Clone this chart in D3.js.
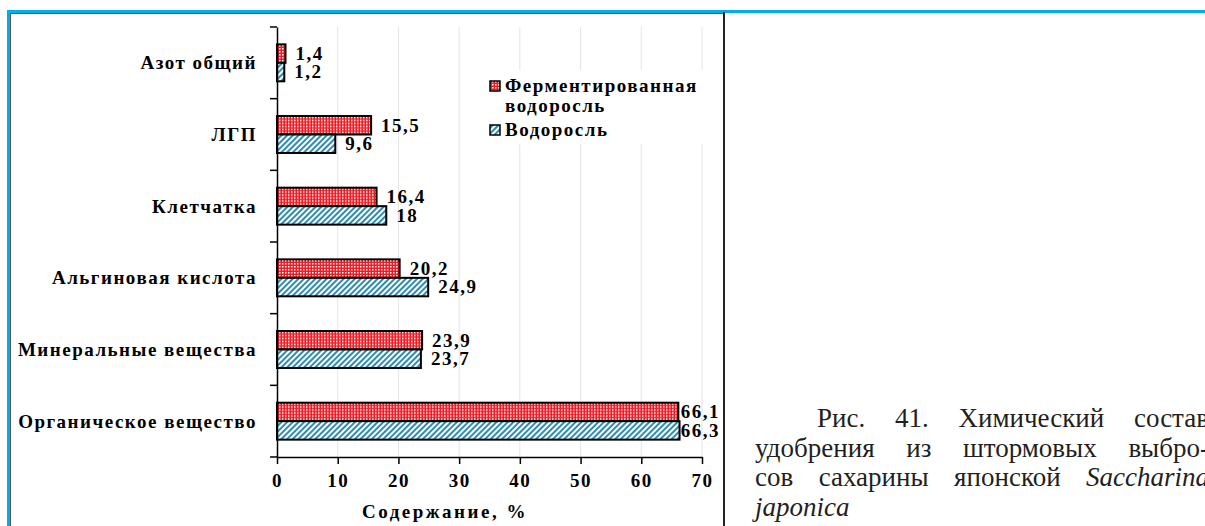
<!DOCTYPE html>
<html>
<head>
<meta charset="utf-8">
<script src="https://cdn.jsdelivr.net/npm/d3@7"></script>
<style>
  html, body { margin: 0; padding: 0; background: #fff; }
  svg { display: block; }
</style>
</head>
<body>
<svg id="fig" width="1205" height="526"></svg>
<script>
// Chemical composition, %
const categories = ["Азот общий", "ЛГП", "Клетчатка", "Альгиновая кислота", "Минеральные вещества", "Органическое вещество"];
const fermented = [1.4, 15.5, 16.4, 20.2, 23.9, 66.1];
const seaweed = [1.2, 9.6, 18, 24.9, 23.7, 66.3];
const seriesKeys = ["fermented", "seaweed"];
const legendLines = [["Ферментированная", "водоросль"], ["Водоросль"]];
const xTicks = [0, 10, 20, 30, 40, 50, 60, 70];
const axisTitle = "Содержание, %";
const captionLines = [
  [{t: "Рис."}, {t: "41."}, {t: "Химический"}, {t: "состав"}],
  [{t: "удобрения"}, {t: "из"}, {t: "штормовых"}, {t: "выбро-"}],
  [{t: "сов"}, {t: "сахарины"}, {t: "японской"}, {t: "Saccharina", i: true}],
  [{t: "japonica", i: true}]
];

const FONT = '"Liberation Serif"';
const svg = d3.select("#fig");

// fill patterns: red check for the fermented series, teal hatching for the plain one
const defs = svg.append("defs");
const pRed = defs.append("pattern").attr("id", "pat-red")
  .attr("patternUnits", "userSpaceOnUse").attr("width", 3).attr("height", 3);
pRed.append("rect").attr("width", 3).attr("height", 3).attr("fill", "#ee1c25");
pRed.append("rect").attr("x", 0).attr("y", 0).attr("width", 1.5).attr("height", 1.5).attr("fill", "#fff");
const pBlue = defs.append("pattern").attr("id", "pat-blue")
  .attr("patternUnits", "userSpaceOnUse").attr("width", 4).attr("height", 4)
  .attr("patternTransform", "rotate(45)");
pBlue.append("rect").attr("width", 4).attr("height", 4).attr("fill", "#fff");
pBlue.append("rect").attr("width", 2).attr("height", 4).attr("fill", "#2b8db3");
const fills = {fermented: "url(#pat-red)", seaweed: "url(#pat-blue)"};

// page frame
svg.append("rect").attr("x", 7).attr("y", 10).attr("width", 1198).attr("height", 3).attr("fill", "#00aeef");
svg.append("rect").attr("x", 7).attr("y", 10).attr("width", 3).attr("height", 516).attr("fill", "#00aeef");
svg.append("line").attr("x1", 10.5).attr("x2", 10.5).attr("y1", 13).attr("y2", 526).attr("stroke", "#555").attr("stroke-width", 1);
svg.append("line").attr("x1", 10).attr("x2", 724).attr("y1", 13.5).attr("y2", 13.5).attr("stroke", "#555").attr("stroke-width", 1);
svg.append("line").attr("x1", 724).attr("x2", 724).attr("y1", 12).attr("y2", 526).attr("stroke", "#222").attr("stroke-width", 2);

// scales
const x = d3.scaleLinear().domain([0, 70]).range([277, 702]);
const y = d3.scaleBand().domain(categories).range([27, 457]).paddingInner(0).paddingOuter(0);
const ySub = d3.scaleBand().domain(seriesKeys).range([0, y.bandwidth()]).paddingInner(0).paddingOuter(0.94);

const rows = categories.map((c, i) => ({cat: c, fermented: fermented[i], seaweed: seaweed[i]}));

// vertical gridlines
svg.append("g").selectAll("line").data(xTicks.filter(t => t > 0)).join("line")
  .attr("x1", d => x(d)).attr("x2", d => x(d))
  .attr("y1", y.range()[0]).attr("y2", y.range()[1])
  .attr("stroke", "#e4e4e4").attr("stroke-width", 1);

// legend backdrop
svg.append("rect").attr("x", 484).attr("y", 70).attr("width", 224).attr("height", 74).attr("fill", "#fff");

// bars
const groups = svg.append("g").selectAll("g").data(rows).join("g")
  .attr("transform", d => `translate(0,${y(d.cat)})`);
groups.selectAll("rect").data(d => seriesKeys.map(k => ({k, v: d[k]}))).join("rect")
  .attr("x", x(0))
  .attr("y", d => ySub(d.k))
  .attr("width", d => x(d.v) - x(0))
  .attr("height", ySub.bandwidth())
  .attr("fill", d => fills[d.k])
  .attr("stroke", "#000").attr("stroke-width", 2);

const boldText = sel => sel.attr("font-size", 19).style("font-family", FONT).style("font-weight", "bold")
  .style("letter-spacing", "1.5px").attr("fill", "#000");

// value labels
const fmt = v => String(v).replace(".", ",");
groups.selectAll("text").data(d => seriesKeys.map(k => ({k, v: d[k]}))).join("text")
  .attr("y", d => ySub(d.k) + ySub.bandwidth() / 2)
  .attr("dy", "0.33em")
  .call(boldText)
  .text(d => fmt(d.v))
  .each(function (d) {
    const w = this.getComputedTextLength();
    d3.select(this).attr("x", Math.min(x(d.v) + 10, 720 - w));
  });

// x axis
const xAxis = svg.append("g").attr("transform", `translate(0,${y.range()[1]})`)
  .call(d3.axisBottom(x).tickValues(xTicks).tickFormat(d3.format("d")).tickSize(7).tickSizeOuter(0).tickPadding(10));
xAxis.attr("font-family", null).attr("font-size", null);
xAxis.select(".domain").attr("stroke", "#000").attr("stroke-width", 1.5);
xAxis.selectAll(".tick line").attr("stroke", "#000").attr("stroke-width", 1.5);
xAxis.selectAll(".tick text").call(boldText);

// y axis with category labels
const yAxis = svg.append("g").attr("transform", `translate(${x(0)},0)`)
  .call(d3.axisLeft(y).tickSize(0).tickSizeOuter(0).tickPadding(20));
yAxis.attr("font-family", null).attr("font-size", null);
yAxis.select(".domain").attr("stroke", "#000").attr("stroke-width", 1.5);
yAxis.selectAll(".tick text").call(boldText).attr("dy", "0.35em");
// tick marks between categories
const bounds = categories.map(c => y(c)).concat([y.range()[1]]);
svg.append("g").selectAll("line").data(bounds).join("line")
  .attr("x1", x(0) - 7).attr("x2", x(0))
  .attr("y1", d => d).attr("y2", d => d)
  .attr("stroke", "#000").attr("stroke-width", 1.5);

// axis title
svg.append("text").attr("x", 445).attr("y", 518).attr("text-anchor", "middle")
  .call(boldText).style("letter-spacing", "2.5px")
  .text(axisTitle);

// legend
const legend = svg.append("g");
const legendRows = [
  {key: "fermented", y: 86},
  {key: "seaweed", y: 130}
];
legendRows.forEach((r, i) => {
  legend.append("rect").attr("x", 490).attr("y", r.y - 5).attr("width", 10).attr("height", 10)
    .attr("fill", fills[r.key]).attr("stroke", "#000").attr("stroke-width", 1.5);
  legendLines[i].forEach((line, j) => {
    legend.append("text").attr("x", 505).attr("y", r.y + 6 + j * 20)
      .call(boldText)
      .text(line);
  });
});

// figure caption, justified column
const cap = svg.append("g");
const colLeft = 755, colRight = 1209, indent = 62;
captionLines.forEach((words, li) => {
  const baseY = 427 + li * 29.7;
  const left = li === 0 ? colLeft + indent : colLeft;
  const last = li === captionLines.length - 1;
  const nodes = words.map(w => cap.append("text").attr("y", baseY)
    .attr("font-size", 27).style("font-family", FONT).attr("fill", "#231f20")
    .style("font-style", w.i ? "italic" : "normal").text(w.t));
  const widths = nodes.map(n => n.node().getComputedTextLength());
  const total = d3.sum(widths);
  const gap = (!last && words.length > 1) ? (colRight - left - total) / (words.length - 1) : 7;
  let cx = left;
  nodes.forEach((n, k) => { n.attr("x", cx); cx += widths[k] + gap; });
});
</script>
</body>
</html>
